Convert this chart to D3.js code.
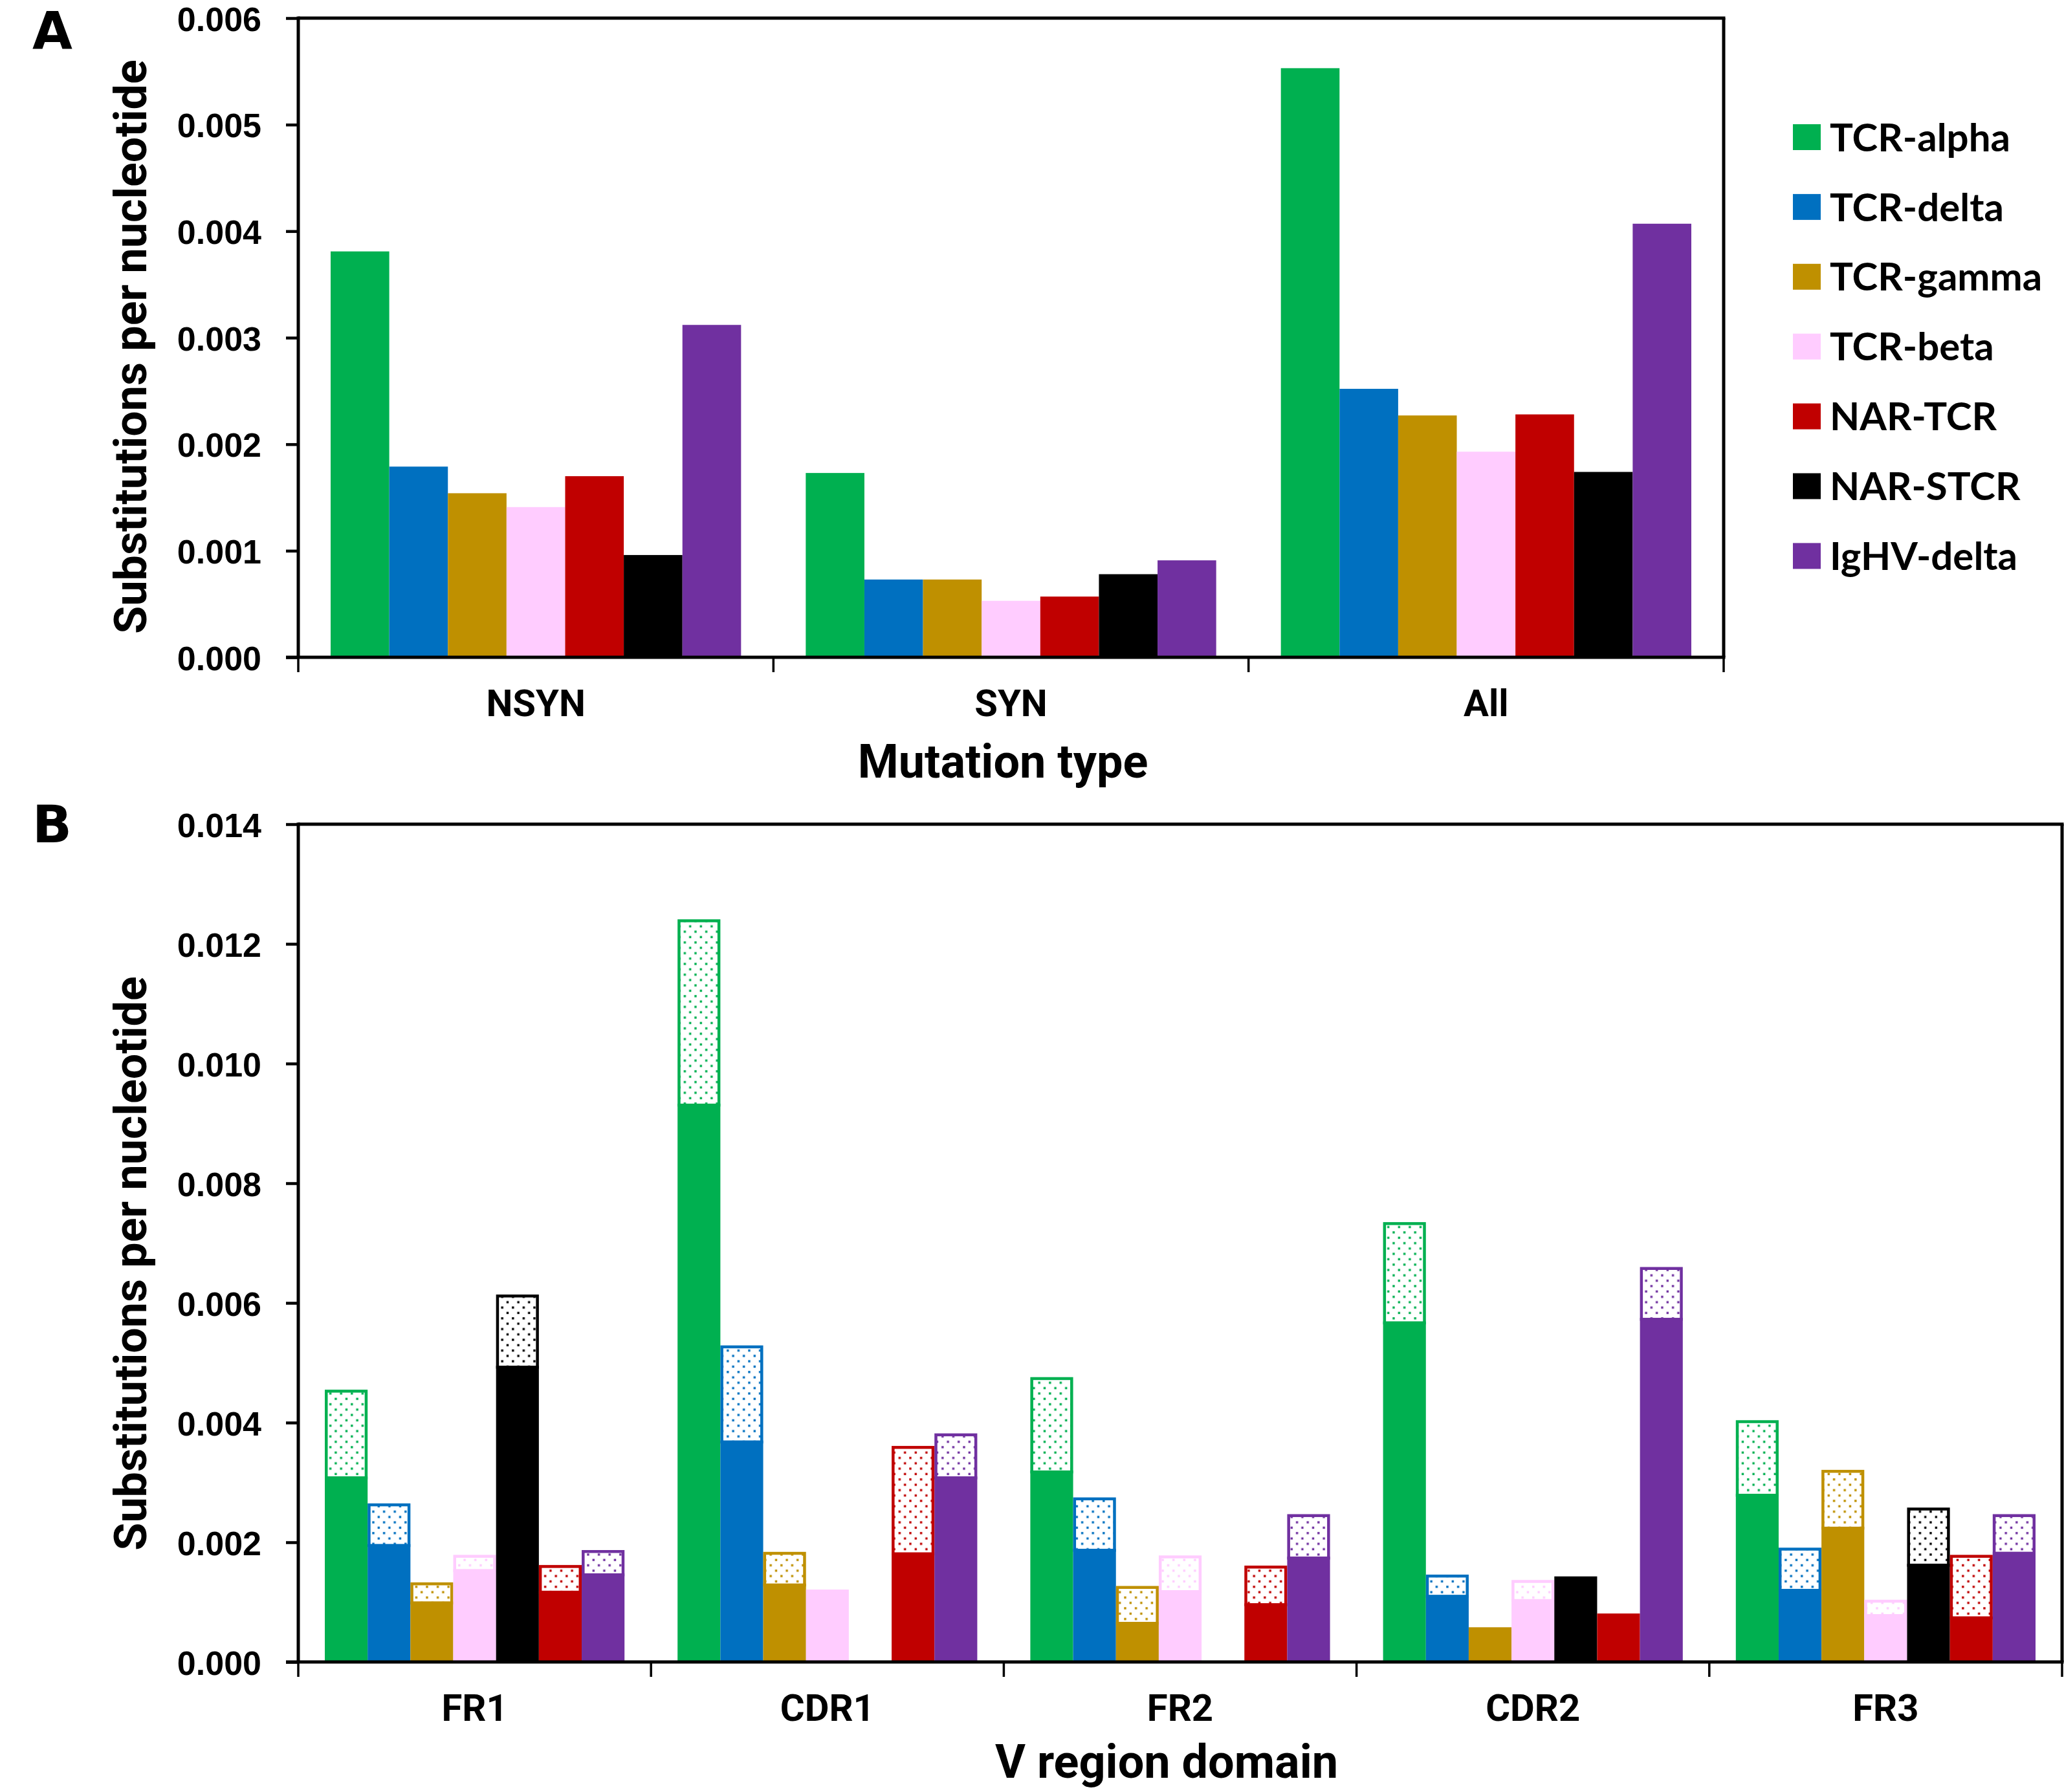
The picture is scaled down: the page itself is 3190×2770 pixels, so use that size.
<!DOCTYPE html>
<html><head><meta charset="utf-8">
<script src="https://cdn.jsdelivr.net/npm/d3@7"></script>
<style>html,body{margin:0;padding:0;background:#fff}</style>
</head><body>
<svg id="chart" width="3190" height="2770" xmlns="http://www.w3.org/2000/svg"></svg>
<script>
// ---------- DATA ----------
const seriesA = ["TCR-alpha","TCR-delta","TCR-gamma","TCR-beta","NAR-TCR","NAR-STCR","IgHV-delta"];
const seriesB = ["TCR-alpha","TCR-delta","TCR-gamma","TCR-beta","NAR-STCR","NAR-TCR","IgHV-delta"];
const seriesColors = {"TCR-alpha":"#00B050","TCR-delta":"#0070C0","TCR-gamma":"#BF9000","TCR-beta":"#FFCCFF","NAR-TCR":"#C00000","NAR-STCR":"#000000","IgHV-delta":"#7030A0"};

const mutationTypes = ["NSYN","SYN","All"];
const tcrAlphaA  = [0.00381, 0.00173, 0.00553];
const tcrDeltaA  = [0.00179, 0.00073, 0.00252];
const tcrGammaA  = [0.00154, 0.00073, 0.00227];
const tcrBetaA   = [0.00141, 0.00053, 0.00193];
const narTcrA    = [0.00170, 0.00057, 0.00228];
const narStcrA   = [0.00096, 0.00078, 0.00174];
const ighvDeltaA = [0.00312, 0.00091, 0.00407];
const ticksA = [0, 0.001, 0.002, 0.003, 0.004, 0.005, 0.006];

const domainsB = ["FR1","CDR1","FR2","CDR2","FR3"];
// solid (lower) part and total bar height (solid + dotted)
const tcrAlphaSolidB  = [0.00310, 0.00933, 0.00320, 0.00569, 0.00281];
const tcrAlphaTotalB  = [0.00455, 0.01241, 0.00476, 0.00735, 0.00404];
const tcrDeltaSolidB  = [0.00197, 0.00370, 0.00189, 0.00112, 0.00122];
const tcrDeltaTotalB  = [0.00265, 0.00529, 0.00275, 0.00146, 0.00191];
const tcrGammaSolidB  = [0.00101, 0.00131, 0.00067, 0.00058, 0.00226];
const tcrGammaTotalB  = [0.00133, 0.00184, 0.00127, 0.00058, 0.00321];
const tcrBetaSolidB   = [0.00155, 0.00121, 0.00120, 0.00105, 0.00080];
const tcrBetaTotalB   = [0.00179, 0.00121, 0.00178, 0.00137, 0.00104];
const narStcrSolidB   = [0.00495, 0, 0, 0.00143, 0.00164];
const narStcrTotalB   = [0.00614, 0, 0, 0.00143, 0.00258];
const narTcrSolidB    = [0.00119, 0.00183, 0.00098, 0.00081, 0.00076];
const narTcrTotalB    = [0.00162, 0.00361, 0.00161, 0.00081, 0.00179];
const ighvDeltaSolidB = [0.00148, 0.00310, 0.00176, 0.00575, 0.00184];
const ighvDeltaTotalB = [0.00187, 0.00382, 0.00247, 0.00660, 0.00247];
const ticksB = [0, 0.002, 0.004, 0.006, 0.008, 0.010, 0.012, 0.014];

const valuesA = {"TCR-alpha":tcrAlphaA,"TCR-delta":tcrDeltaA,"TCR-gamma":tcrGammaA,"TCR-beta":tcrBetaA,"NAR-TCR":narTcrA,"NAR-STCR":narStcrA,"IgHV-delta":ighvDeltaA};
const solidB = {"TCR-alpha":tcrAlphaSolidB,"TCR-delta":tcrDeltaSolidB,"TCR-gamma":tcrGammaSolidB,"TCR-beta":tcrBetaSolidB,"NAR-STCR":narStcrSolidB,"NAR-TCR":narTcrSolidB,"IgHV-delta":ighvDeltaSolidB};
const totalB = {"TCR-alpha":tcrAlphaTotalB,"TCR-delta":tcrDeltaTotalB,"TCR-gamma":tcrGammaTotalB,"TCR-beta":tcrBetaTotalB,"NAR-STCR":narStcrTotalB,"NAR-TCR":narTcrTotalB,"IgHV-delta":ighvDeltaTotalB};

// ---------- DRAW ----------
const svg = d3.select("#chart");
const tickFont = "'Liberation Sans', Arial, sans-serif";
const legendFont = "Lato, 'DejaVu Sans', sans-serif";
const letterFont = "'DejaVu Sans', sans-serif";
const titleFont = "Roboto, 'Liberation Sans', sans-serif";
const LW = 5;

// dotted patterns
const defs = svg.append("defs");
Object.entries(seriesColors).forEach(([name, col], i) => {
  const p = defs.append("pattern").attr("id", "dots" + i)
    .attr("patternUnits", "userSpaceOnUse").attr("width", 16.6).attr("height", 16.6);
  p.append("rect").attr("width", 16.6).attr("height", 16.6).attr("fill", "#fff");
  p.append("rect").attr("x", 2.6).attr("y", 2.6).attr("width", 3.4).attr("height", 3.4).attr("fill", col);
  p.append("rect").attr("x", 10.9).attr("y", 10.9).attr("width", 3.4).attr("height", 3.4).attr("fill", col);
});
const patId = name => "url(#dots" + Object.keys(seriesColors).indexOf(name) + ")";

function panel(opt) {
  const g = svg.append("g");
  const x0 = d3.scaleBand().domain(opt.cats).range([opt.left, opt.right]).padding(0);
  const x1 = d3.scaleBand().domain(opt.series).range([opt.pad, x0.bandwidth() - opt.pad]).padding(0);
  const y = d3.scaleLinear().domain(opt.yDomain).range([opt.bottom, opt.top]);

  opt.drawBars(g, x0, x1, y);

  // frame (top + right)
  g.append("line").attr("x1", opt.left).attr("x2", opt.right + LW/2).attr("y1", opt.top).attr("y2", opt.top)
    .attr("stroke", "#000").attr("stroke-width", LW);
  g.append("line").attr("x1", opt.right).attr("x2", opt.right).attr("y1", opt.top).attr("y2", opt.bottom)
    .attr("stroke", "#000").attr("stroke-width", LW);

  // y axis
  const ya = g.append("g").attr("transform", `translate(${opt.left},0)`)
    .call(d3.axisLeft(y).tickValues(opt.ticks).tickFormat(d3.format(".3f")).tickSize(19).tickSizeOuter(0).tickPadding(38));
  ya.select(".domain").attr("stroke-width", LW).attr("d", `M0,${opt.top - LW/2}V${opt.bottom}`);
  ya.selectAll(".tick line").attr("stroke-width", 4.5);
  ya.selectAll(".tick text").attr("font-family", tickFont).attr("font-weight", 700)
    .attr("font-size", 52).attr("fill", "#000").attr("dy", "0.37em");

  // x axis
  g.append("line").attr("x1", opt.left - 19).attr("x2", opt.right + LW/2).attr("y1", opt.bottom).attr("y2", opt.bottom)
    .attr("stroke", "#000").attr("stroke-width", LW);
  const bounds = opt.cats.map(c => x0(c)).concat([x0.range()[1]]);
  g.selectAll(".xt").data(bounds).join("line").attr("class", "xt")
    .attr("x1", d => d).attr("x2", d => d).attr("y1", opt.bottom).attr("y2", opt.bottom + 23)
    .attr("stroke", "#000").attr("stroke-width", 3.5);
  g.selectAll(".xl").data(opt.cats).join("text").attr("class", "xl")
    .attr("x", d => x0(d) + x0.bandwidth() / 2).attr("y", opt.catBaseline)
    .attr("text-anchor", "middle").attr("font-family", titleFont).attr("font-weight", 700)
    .attr("font-size", 58).text(d => d);

  // titles
  g.append("text").attr("x", opt.xTitleX).attr("y", opt.xTitleY).attr("text-anchor", "middle")
    .attr("font-family", titleFont).attr("font-weight", 700).attr("font-size", 72).text(opt.xTitle);
  g.append("text").attr("transform", `translate(226,${opt.yTitleY}) rotate(-90)`).attr("text-anchor", "middle")
    .attr("font-family", titleFont).attr("font-weight", 700).attr("font-size", 70).text("Substitutions per nucleotide");
  g.append("text").attr("x", 50).attr("y", opt.letterY).attr("font-family", letterFont).attr("font-weight", 700)
    .attr("font-size", 80).text(opt.letter);
}

// Panel A
panel({
  cats: mutationTypes, series: seriesA, left: 461, right: 2664, top: 28, bottom: 1016, pad: 50,
  yDomain: [0, 0.006], ticks: ticksA, catBaseline: 1107, xTitle: "Mutation type", xTitleX: 1550, xTitleY: 1202,
  yTitleY: 536, letter: "A", letterY: 76,
  drawBars: (g, x0, x1, y) => {
    mutationTypes.forEach((c, ci) => {
      g.selectAll(null).data(seriesA).join("rect")
        .attr("x", s => x0(c) + x1(s)).attr("width", x1.bandwidth())
        .attr("y", s => y(valuesA[s][ci])).attr("height", s => y(0) - y(valuesA[s][ci]))
        .attr("fill", s => seriesColors[s]);
    });
  }
});

// Panel B
panel({
  cats: domainsB, series: seriesB, left: 461, right: 3187, top: 1274, bottom: 2569, pad: 41,
  yDomain: [0, 0.014], ticks: ticksB, catBaseline: 2660, xTitle: "V region domain", xTitleX: 1803, xTitleY: 2748,
  yTitleY: 1953, letter: "B", letterY: 1302,
  drawBars: (g, x0, x1, y) => {
    const sw = 4.5;
    domainsB.forEach((c, ci) => {
      seriesB.forEach(s => {
        const tot = totalB[s][ci], sol = solidB[s][ci];
        const bx = x0(c) + x1(s), bw = x1.bandwidth();
        if (tot > sol) {
          g.append("rect").attr("x", bx + sw/2).attr("width", bw - sw)
            .attr("y", y(tot) + sw/2).attr("height", y(sol) - y(tot))
            .attr("fill", patId(s)).attr("stroke", seriesColors[s]).attr("stroke-width", sw);
        }
        if (sol > 0) {
          g.append("rect").attr("x", bx).attr("width", bw)
            .attr("y", y(sol)).attr("height", y(0) - y(sol)).attr("fill", seriesColors[s]);
        }
      });
    });
  }
});

// Legend
const legend = svg.append("g");
seriesA.forEach((s, i) => {
  const cy = 212 + i * 107.9;
  legend.append("rect").attr("x", 2771).attr("y", cy - 20).attr("width", 43).attr("height", 40).attr("fill", seriesColors[s]);
  legend.append("text").attr("x", 2828).attr("y", cy).attr("dy", "0.36em")
    .attr("font-family", legendFont).attr("font-weight", 700).attr("font-size", 60).text(s);
});
</script>
</body></html>
